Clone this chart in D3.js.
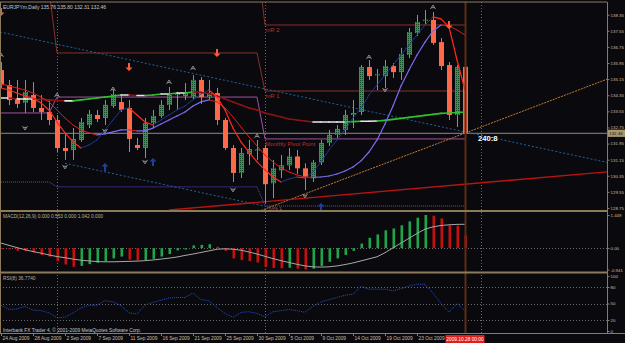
<!DOCTYPE html>
<html><head><meta charset="utf-8">
<script src="https://cdn.jsdelivr.net/npm/d3@7"></script>
<style>html,body{margin:0;padding:0;background:#0a0a0e;overflow:hidden}svg{display:block}</style>
</head><body><svg id="c" width="625" height="343"></svg>
<script>
// ---------------- DATA ----------------
const symbolTitle = "EURJPYm,Daily";
const open  = [135.60,134.86,134.20,133.97,134.36,133.72,133.52,133.12,131.73,131.63,132.13,132.87,133.37,133.22,133.82,134.01,133.72,131.88,131.73,132.97,133.32,133.87,134.36,134.31,134.26,135.11,134.26,134.46,133.12,131.73,130.49,131.43,131.63,131.73,129.98,130.62,130.87,131.31,130.72,130.22,131.02,131.98,132.38,132.63,133.37,133.52,135.75,135.35,135.30,135.80,135.50,136.35,137.44,138.05,138.09,136.99,135.85,133.37,135.76];
const high  = [136.00,135.11,135.11,135.11,135.00,134.36,134.11,133.37,132.47,132.72,133.22,133.62,133.62,134.11,134.61,134.36,134.11,132.23,133.22,133.62,134.11,134.76,134.51,134.96,135.35,135.25,135.11,134.71,133.22,131.88,131.73,132.13,132.13,131.88,131.14,131.38,131.73,131.63,130.97,131.14,132.13,132.63,132.87,133.62,134.11,135.85,136.10,135.65,136.10,135.95,136.70,137.69,138.34,138.58,138.48,137.19,136.00,135.85,135.80];
const low   = [134.71,133.86,133.72,133.47,133.52,133.12,132.87,131.53,131.14,131.14,132.03,132.72,133.02,132.87,133.72,133.52,131.53,131.63,131.23,132.72,133.22,133.62,133.62,134.11,134.11,133.92,134.11,132.87,131.63,130.04,130.24,130.89,131.14,128.99,129.24,130.24,130.64,130.44,129.64,130.04,130.89,131.83,132.23,132.38,132.72,133.37,135.11,134.61,134.71,135.21,135.11,136.20,137.29,137.84,136.85,135.60,133.12,132.77,132.31];
const close = [134.86,134.11,133.92,134.51,133.72,133.52,133.12,131.73,131.58,132.18,133.02,133.42,133.17,133.87,134.41,133.62,132.18,131.73,132.97,133.32,133.87,134.36,134.46,134.46,135.11,134.26,134.46,133.12,131.73,130.49,131.48,131.68,131.66,129.93,130.72,130.87,131.31,130.72,130.27,131.02,131.98,132.38,132.68,133.37,133.47,135.75,135.30,135.40,135.80,135.50,136.40,137.49,137.99,138.10,136.95,135.80,133.37,135.75,132.46];

// moving averages
const fastMA = [134.71,134.61,134.46,134.31,134.21,133.97,133.62,133.02,132.48,132.03,131.73,131.88,132.13,132.63,133.12,133.62,133.72,133.37,133.02,132.87,133.12,133.37,133.62,133.82,134.12,134.41,134.61,134.26,133.62,132.72,132.03,131.53,131.04,130.64,130.29,130.04,130.19,130.29,130.24,130.54,131.04,131.63,132.13,132.63,133.22,133.72,134.36,134.86,135.36,135.85,136.35,136.85,137.34,137.84,138.24,138.14,137.74,136.10,134.61];
const midMA  = [134.91,134.81,134.71,134.61,134.46,134.26,134.02,133.62,133.22,132.87,132.63,132.48,132.38,132.43,132.53,132.63,132.63,132.58,132.58,132.72,132.92,133.12,133.32,133.52,133.82,134.02,134.12,134.02,133.72,133.27,132.77,132.28,131.83,131.38,131.04,130.74,130.54,130.39,130.29,130.27,130.29,130.34,130.44,130.59,130.79,131.09,131.53,132.13,132.92,133.82,134.81,135.60,136.35,136.99,137.54,137.84,137.79,137.59,137.34];
const slowMA = [134.21,134.21,134.16,134.16,134.16,134.14,134.12,134.09,134.07,134.07,134.12,134.16,134.21,134.26,134.31,134.36,134.36,134.34,134.34,134.36,134.41,134.41,134.46,134.46,134.51,134.49,134.44,134.31,134.16,134.02,133.87,133.72,133.62,133.47,133.37,133.27,133.17,133.12,133.07,133.02,133.02,133.02,133.02,133.02,133.04,133.06,133.06,133.07,133.10,133.15,133.20,133.25,133.30,133.35,133.40,133.45,133.47,133.49,133.52];

// monthly pivot levels (Aug, Sep, Oct) and first bar of each month
const monthStart = [0, 7, 33];
const pivotR2 = [140.60, 141.15, 137.84];
const pivotR1 = [139.58, 136.45, 134.56];
const pivotPP = [133.47, 134.26, 132.18];
const pivotS1 = [130.04, 129.80, 128.85];

// trend lines: [barIndex, price] anchors
const channelUpper = [[0, 137.48], [58, 132.53]];
const channelLower = [[8, 130.97], [58, 126.70]];
const orangeTrend  = [[33, 128.70], [58, 132.47]];
const redTrend     = [[21, 128.65], [58, 129.93]];

// signals
const upFractals   = [[0,136.35],[7,134.36],[14,134.66],[21,135.01],[24,135.70],[32,132.33],[46,136.25],[54,138.73]];
const downFractals = [[3,132.72],[8,130.79],[13,132.58],[18,131.04],[29,129.65],[38,129.35],[48,134.61]];
const buyArrows    = [[13,130.79],[19,131.04],[40,128.80]];
const sellArrows   = [[0,138.48],[16,135.75],[27,136.45],[56,137.84]];

// MACD & RSI
const macdHist = [-0.02,-0.05,-0.12,-0.13,-0.19,-0.30,-0.37,-0.57,-0.72,-0.82,-0.78,-0.70,-0.64,-0.57,-0.45,-0.37,-0.50,-0.53,-0.52,-0.47,-0.37,-0.26,-0.10,-0.06,0.12,0.14,0.17,0.06,-0.12,-0.45,-0.52,-0.57,-0.63,-0.82,-0.87,-0.88,-0.86,-0.90,-0.941,-0.90,-0.78,-0.60,-0.45,-0.30,-0.12,0.20,0.45,0.60,0.78,0.86,1.00,1.17,1.33,1.449,1.42,1.30,1.00,0.98,0.553];
const macdSignal = [0.22,0.12,0.02,-0.07,-0.15,-0.22,-0.30,-0.37,-0.42,-0.48,-0.53,-0.56,-0.59,-0.60,-0.60,-0.59,-0.58,-0.57,-0.55,-0.52,-0.48,-0.44,-0.39,-0.32,-0.26,-0.19,-0.12,-0.05,-0.03,-0.05,-0.09,-0.17,-0.26,-0.36,-0.46,-0.55,-0.63,-0.71,-0.78,-0.82,-0.83,-0.82,-0.78,-0.72,-0.65,-0.56,-0.47,-0.38,-0.20,0.01,0.22,0.43,0.64,0.83,0.93,0.99,1.02,1.04,1.042];
const rsi = [47,39,40,45,38,37,33,24,25,33,42,47,47,55,53,46,33,31,47,52,56,60,61,61,69,57,55,43,32,25,34,35,32,26,35,37,39,37,34,45,53,57,61,65,67,81,76,76,76,73,77,82,85,85,69,50,34,50,36.77];

// axis labels
const priceTicks = [138.35,137.55,136.75,135.95,135.15,134.35,133.55,132.75,131.95,131.15,130.35,129.55,128.75];
const macdTicks = [1.449, 0, -0.941];
const macdTickLabels = ["1.449","0.00","-0.941"];
const rsiTicks = [100,80,50,20,0];
const dateTickIdx = [0,4,8,12,16,20,24,28,32,36,40,44,48,52];
const dateLabels = ["24 Aug 2009","28 Aug 2009","2 Sep 2009","7 Sep 2009","11 Sep 2009","16 Sep 2009","21 Sep 2009","25 Sep 2009","30 Sep 2009","5 Oct 2009","9 Oct 2009","14 Oct 2009","19 Oct 2009","23 Oct 2009"];
const cursorIdx = 58, cursorLabel = "2009.10.28 00:00";
const separatorIdx = [7, 33, 60];
const macdTitle = "MACD(12,26,9) 0.000 0.553 0.000 1.042 0.000";
const rsiTitle = "RSI(8) 36.7740";
const timerText = "240:8";
const copyright = "Interbank FX Trader 4, \u00A9 2001-2009 MetaQuotes Software Corp.";

// ---------------- DRAW ----------------
const W = 625, H = 343;
const FONT = "Liberation Sans, Arial, sans-serif";
const frameCol = "#8c7b58", txtCol = "#c8bfa5";
const svg = d3.select("#c");
const N = close.length;
const last = N - 1;
const x = d3.scaleLinear().domain([0, 58]).range([1, 465]);
const yP = d3.scaleLinear().domain([128.75, 138.35]).range([208, 14.7]);
const yM = d3.scaleLinear().domain([-0.941, 1.449]).range([269.6, 215]);
const yR = d3.scaleLinear().domain([0, 100]).range([331, 276]);
const xRight = 607;
const yMainTop = 2, yMainBot = 210, yMacdTop = 212, yMacdBot = 271.5, yRsiTop = 273.5, yRsiBot = 333;

svg.append("rect").attr("width", W).attr("height", H).attr("fill", "#0a0a0e");
const defs = svg.append("defs");
function clip(id, y0, y1) {
  defs.append("clipPath").attr("id", id).append("rect")
    .attr("x", 0).attr("y", y0).attr("width", xRight).attr("height", y1 - y0);
}
clip("cm", yMainTop, yMainBot); clip("cmacd", yMacdTop, yMacdBot); clip("crsi", yRsiTop, yRsiBot);
const pg = defs.append("pattern").attr("id", "gdot").attr("width", 2).attr("height", 2).attr("patternUnits", "userSpaceOnUse");
pg.append("rect").attr("width", 2).attr("height", 2).attr("fill", "#23a04c");
pg.append("rect").attr("width", 1).attr("height", 1).attr("fill", "#0d4a22");

// grid / separators
const grid = svg.append("g");
separatorIdx.forEach(i => {
  grid.append("line").attr("x1", x(i)+0.5).attr("x2", x(i)+0.5).attr("y1", yMainTop).attr("y2", yRsiBot)
    .attr("stroke", "#6a6a6a").attr("stroke-dasharray", "1,2");
});
[[yM(0)],[yR(80)],[yR(50)],[yR(20)]].forEach(([yy]) => {
  grid.append("line").attr("x1", 0).attr("x2", xRight).attr("y1", Math.round(yy)+0.5).attr("y2", Math.round(yy)+0.5)
    .attr("stroke", "#6a6a6a").attr("stroke-dasharray", "1,2");
});

// ---- main panel ----
const main = svg.append("g").attr("clip-path", "url(#cm)");
main.append("line").attr("x1", 0).attr("x2", xRight).attr("y1", yP(close[last])).attr("y2", yP(close[last]))
  .attr("stroke", "#8a8a8a").attr("stroke-width", 1);

function monthOf(i){ let m = 0; monthStart.forEach((s,k)=>{ if (i >= s) m = k; }); return m; }
function pivotLine(levels, color, dash, w) {
  const pts = d3.range(N).map(i => [x(i), yP(levels[monthOf(i)])]);
  main.append("path").attr("d", d3.line()(pts)).attr("fill", "none").attr("stroke", color)
    .attr("stroke-width", w).attr("stroke-dasharray", dash);
}
pivotLine(pivotR2, "#86302c", null, 1);
pivotLine(pivotR1, "#86302c", null, 1);
pivotLine(pivotPP, "#a2509e", null, 1);
pivotLine(pivotS1, "#6a46c8", "1,1", 1);

function trend(anchors, x0i, x1i, color, dash, w) {
  const [[i0,p0],[i1,p1]] = anchors;
  const s = (p1 - p0) / (i1 - i0);
  const f = i => p0 + s * (i - i0);
  main.append("line").attr("x1", x(x0i)).attr("y1", yP(f(x0i))).attr("x2", x(x1i)).attr("y2", yP(f(x1i)))
    .attr("stroke", color).attr("stroke-width", w).attr("stroke-dasharray", dash);
}
const iEdge = x.invert(xRight);
trend(channelUpper, x.invert(0), iEdge, "#23619a", "2,2", 1);
trend(channelLower, channelLower[0][0], iEdge, "#23619a", "2,2", 1);
trend(orangeTrend, orangeTrend[0][0] - 0.5, iEdge, "#c27a34", "2,1", 1);
trend(redTrend, redTrend[0][0], iEdge, "#b81414", null, 1.4);

// candles
const cg = main.append("g");
d3.range(N).forEach(i => {
  const up = close[i] >= open[i];
  const xc = Math.round(x(i));
  cg.append("line").attr("x1", xc+0.5).attr("x2", xc+0.5).attr("y1", yP(high[i])).attr("y2", yP(low[i]))
    .attr("stroke", "#8e8e8e").attr("stroke-width", 1);
  const y0 = yP(Math.max(open[i], close[i])), y1 = yP(Math.min(open[i], close[i]));
  cg.append("rect").attr("x", xc - 2).attr("width", 5).attr("y", y0).attr("height", Math.max(1.2, y1 - y0))
    .attr("fill", up ? "url(#gdot)" : "#ff6947");
});

function colorLine(vals, styleFn) {
  for (let i = 1; i < vals.length; i++) {
    const st = styleFn(vals[i] - vals[i-1]);
    main.append("line").attr("x1", x(i-1)).attr("y1", yP(vals[i-1])).attr("x2", x(i)).attr("y2", yP(vals[i]))
      .attr("stroke", st.c).attr("stroke-width", st.w).attr("stroke-dasharray", st.dash || null)
      .attr("stroke-linecap", "round");
  }
}
colorLine(slowMA, d => d > 0.012 ? {c:"#2fc02f", w:1.6} : (d < -0.012 ? {c:"#8e1212", w:1.6} : {c:"#e8e8e8", w:1.6}));
colorLine(midMA, d => d >= 0 ? {c:"#7b6cf0", w:1.2} : {c:"#e01c1c", w:1});
colorLine(fastMA, d => d >= 0 ? {c:"#1e3fa8", w:1, dash:"1,1"} : {c:"#ff2a1e", w:1.2});

const mk = main.append("g");
upFractals.forEach(([i,p]) => {
  mk.append("path").attr("transform", `translate(${x(i)},${yP(p)})`).attr("d", "M-2.5,2L0,-2L2.5,2M-1.3,0.6L1.3,0.6")
    .attr("fill", "none").attr("stroke", "#9a9a9a").attr("stroke-width", 0.9);
});
downFractals.forEach(([i,p]) => {
  mk.append("path").attr("transform", `translate(${x(i)},${yP(p)})`).attr("d", "M-2.5,-2L0,2L2.5,-2M-1.3,-0.6L1.3,-0.6")
    .attr("fill", "none").attr("stroke", "#9a9a9a").attr("stroke-width", 0.9);
});
buyArrows.forEach(([i,p]) => {
  mk.append("path").attr("transform", `translate(${x(i)},${yP(p)})`).attr("d", "M0,-4L3.5,-0.5L1,-0.5L1,4L-1,4L-1,-0.5L-3.5,-0.5Z")
    .attr("fill", "#1f3f9c");
});
sellArrows.forEach(([i,p]) => {
  mk.append("path").attr("transform", `translate(${x(i)},${yP(p)})`).attr("d", "M0,4L3.5,0.5L1,0.5L1,-4L-1,-4L-1,0.5L-3.5,0.5Z")
    .attr("fill", "#ff5a36");
});

const lab = main.append("g").attr("font-family", FONT).attr("font-size", 5.8).attr("fill", "#b8322c");
const lx = x(monthStart[2]) + 0.5;
lab.append("text").attr("x", lx).attr("y", yP(pivotR2[2]) + 7).text("mR 2");
lab.append("text").attr("x", lx).attr("y", yP(pivotR1[2]) + 6.5).text("mR 1");
lab.append("text").attr("x", lx).attr("y", yP(pivotPP[2]) + 7.5).text("Monthly Pivot Point");
lab.append("text").attr("x", lx + 3).attr("y", yP(pivotS1[2]) + 5).text("mS 1");

svg.append("text").attr("x", 478).attr("y", yP(close[last]) + 7.5).attr("font-family", FONT)
  .attr("font-size", 7.6).attr("font-weight", "bold").attr("fill", "#ffffff").text(timerText);

// ---- MACD ----
const mg = svg.append("g").attr("clip-path", "url(#cmacd)");
macdHist.forEach((v, i) => {
  const upC = i > 0 && v > macdHist[i-1];
  const y0 = yM(Math.max(0, v)), y1 = yM(Math.min(0, v));
  mg.append("rect").attr("x", Math.round(x(i)) - 0.5).attr("width", 2.6).attr("y", y0).attr("height", Math.max(0.8, y1 - y0))
    .attr("fill", upC ? "#22a24a" : "#c41010");
});
mg.append("path").attr("d", d3.line().x((d,i)=>x(i)).y(d=>yM(d))(macdSignal))
  .attr("fill", "none").attr("stroke", "#a8a8a8").attr("stroke-width", 1);

// ---- RSI ----
const rg = svg.append("g").attr("clip-path", "url(#crsi)");
rg.append("path").attr("d", d3.line().x((d,i)=>x(i)).y(d=>yR(d))(rsi))
  .attr("fill", "none").attr("stroke", "#2452c8").attr("stroke-width", 1).attr("stroke-dasharray", "1,1");

svg.append("line").attr("x1", x(cursorIdx)+0.5).attr("x2", x(cursorIdx)+0.5).attr("y1", yMainTop).attr("y2", yRsiBot)
  .attr("stroke", "#5e2c16").attr("stroke-width", 2);

// ---- frames ----
const fr = svg.append("g").attr("stroke", frameCol);
fr.append("line").attr("x1", 0).attr("x2", xRight).attr("y1", 2).attr("y2", 2).attr("stroke-width", 1);
fr.append("line").attr("x1", 0.5).attr("x2", 0.5).attr("y1", 2).attr("y2", yRsiBot).attr("stroke-width", 1);
fr.append("line").attr("x1", 0).attr("x2", xRight).attr("y1", 211).attr("y2", 211).attr("stroke-width", 2);
fr.append("line").attr("x1", 0).attr("x2", xRight).attr("y1", 272.5).attr("y2", 272.5).attr("stroke-width", 2);
fr.append("line").attr("x1", 0).attr("x2", W).attr("y1", 333.5).attr("y2", 333.5).attr("stroke-width", 1.2);
fr.append("line").attr("x1", xRight+0.5).attr("x2", xRight+0.5).attr("y1", 2).attr("y2", 333.5).attr("stroke-width", 1);

// ---- right axes ----
function rightAxis(scale, vals, fmt) {
  const g = svg.append("g").attr("transform", `translate(${xRight+0.5},0)`)
    .call(d3.axisRight(scale).tickValues(vals).tickSize(2).tickPadding(1).tickFormat(fmt));
  g.select(".domain").remove();
  g.selectAll("line").attr("stroke", frameCol);
  g.selectAll("text").attr("fill", txtCol).attr("font-family", FONT).attr("font-size", 4.4);
}
rightAxis(yP, priceTicks, d3.format(".2f"));
rightAxis(yM, macdTicks, (d,i) => macdTickLabels[i]);
rightAxis(yR, rsiTicks, d3.format("d"));
const yc = yP(close[last]);
svg.append("rect").attr("x", xRight+1).attr("y", yc-3.6).attr("width", 17).attr("height", 7.2).attr("fill", "#a89870");
svg.append("text").attr("x", xRight+2.2).attr("y", yc+1.7).attr("font-family", FONT).attr("font-size", 4.4)
  .attr("fill", "#101010").text(close[last].toFixed(2));

// ---- date axis ----
const dg = svg.append("g").attr("transform", `translate(0,${yRsiBot+0.5})`)
  .call(d3.axisBottom(x).tickValues(dateTickIdx).tickSize(2.5).tickPadding(1).tickFormat((d,i)=>dateLabels[i]));
dg.select(".domain").remove();
dg.selectAll("line").attr("stroke", frameCol);
dg.selectAll("text").attr("fill", txtCol).attr("font-family", FONT).attr("font-size", 4.8)
  .attr("text-anchor", "start").attr("dx", 1);
svg.append("rect").attr("x", x(cursorIdx)-19.5).attr("y", 335).attr("width", 39).attr("height", 8).attr("fill", "#e31c1c");
svg.append("text").attr("x", x(cursorIdx)).attr("y", 341.3).attr("text-anchor", "middle").attr("font-family", FONT)
  .attr("font-size", 4.8).attr("fill", "#ffffff").text(cursorLabel);

// ---- titles ----
svg.append("text").attr("x", 3).attr("y", 8.5).attr("font-family", FONT).attr("font-size", 5)
  .attr("fill", "#c8c8c8").text(`${symbolTitle}  ${open[last].toFixed(2)} ${high[last].toFixed(2)} ${low[last].toFixed(2)} ${close[last].toFixed(2)}`);
svg.append("text").attr("x", 3).attr("y", 217.8).attr("font-family", FONT).attr("font-size", 4.8)
  .attr("fill", "#b8b09a").text(macdTitle);
svg.append("text").attr("x", 3).attr("y", 279.5).attr("font-family", FONT).attr("font-size", 4.8)
  .attr("fill", "#b8b09a").text(rsiTitle);
svg.append("text").attr("x", 3).attr("y", 331.5).attr("font-family", FONT).attr("font-size", 4.8)
  .attr("fill", "#c8c8c8").text(copyright);
</script></body></html>
